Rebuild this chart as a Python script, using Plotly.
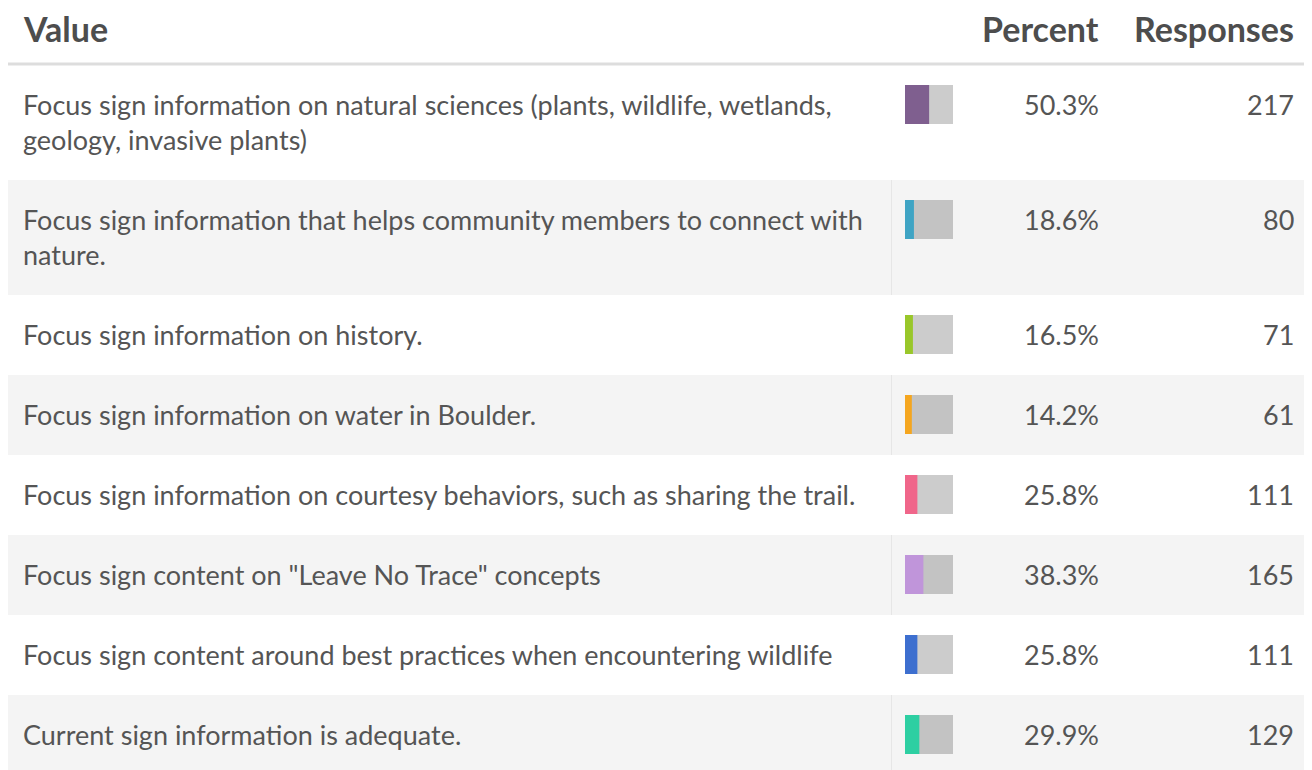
import plotly.graph_objects as go

# ---- data ----
categories = [
    "Focus sign information on natural sciences (plants, wildlife, wetlands,<br>geology, invasive plants)",
    "Focus sign information that helps community members to connect with<br>nature.",
    "Focus sign information on history.",
    "Focus sign information on water in Boulder.",
    "Focus sign information on courtesy behaviors, such as sharing the trail.",
    "Focus sign content on \"Leave No Trace\" concepts",
    "Focus sign content around best practices when encountering wildlife",
    "Current sign information is adequate.",
]
percents = [50.3, 18.6, 16.5, 14.2, 25.8, 38.3, 25.8, 29.9]
responses = [217, 80, 71, 61, 111, 165, 111, 129]
bar_colors = ["#7f5f8f", "#3fa4c4", "#99c72a", "#f5a61f", "#f0668a", "#c095da", "#3d6fcf", "#2dcfa2"]
headers = ["Value", "Percent", "Responses"]

# ---- layout geometry (reference pixel space; page body has an 8px margin) ----
W, H = 1312, 770
OFF = 8
FONT = "Lato"
TXT = "#555555"
HDR = "#4d4d4d"
LEFT = 8
HEADER_LINE = 64
ROW_ONE = 80
LINE_H = 35
BAR_TOP = 20
BAR_H = 39
BODY_SIZE = 27
NUM_SIZE = 27
HEAD_SIZE = 34

fig = go.Figure()

shapes = []
annotations = []

# header
for txt, x, anchor in [(headers[0], 21, "left"), (headers[1], 1101, "right"), (headers[2], 1296, "right")]:
    annotations.append(dict(x=x, y=28, xref="x", yref="y", text="<b>%s</b>" % txt,
                            showarrow=False, xanchor=anchor, yanchor="middle",
                            font=dict(family=FONT, size=HEAD_SIZE, color=HDR)))
shapes.append(dict(type="line", xref="x", yref="y", x0=LEFT, x1=W, y0=HEADER_LINE, y1=HEADER_LINE,
                   line=dict(color="#dddddd", width=3), layer="below"))

top = HEADER_LINE + 1
bar_centers = []
for i, cat in enumerate(categories):
    lines = cat.split("<br>")
    h = ROW_ONE + (len(lines) - 1) * LINE_H
    bottom = top + h
    if i % 2 == 1:
        shapes.append(dict(type="rect", xref="x", yref="y", x0=LEFT, x1=W, y0=top, y1=bottom,
                           fillcolor="#f4f4f4", line=dict(width=0), layer="below"))
        shapes.append(dict(type="line", xref="x", yref="y", x0=891.5, x1=891.5, y0=top, y1=bottom,
                           line=dict(color="#e6e6e6", width=1), layer="below"))
    yc = top + BAR_TOP + BAR_H / 2
    bar_centers.append(yc)
    for j, ln in enumerate(lines):
        annotations.append(dict(x=21, y=yc + j * LINE_H, xref="x", yref="y", text=ln,
                                showarrow=False, xanchor="left", yanchor="middle",
                                font=dict(family=FONT, size=BODY_SIZE, color=TXT)))
    annotations.append(dict(x=1101, y=yc, xref="x", yref="y", text="%.1f%%" % percents[i],
                            showarrow=False, xanchor="right", yanchor="middle",
                            font=dict(family=FONT, size=NUM_SIZE, color=TXT)))
    annotations.append(dict(x=1296, y=yc, xref="x", yref="y", text=str(responses[i]),
                            showarrow=False, xanchor="right", yanchor="middle",
                            font=dict(family=FONT, size=NUM_SIZE, color=TXT)))
    top = bottom

# mini bars: gray track + coloured share
fig.add_trace(go.Bar(x=[100] * len(percents), y=bar_centers, orientation="h",
                     width=BAR_H, marker=dict(color="rgba(0,0,0,0.2)", line=dict(width=0)),
                     xaxis="x2", yaxis="y", hoverinfo="skip", showlegend=False))
fig.add_trace(go.Bar(x=percents, y=bar_centers, orientation="h",
                     width=BAR_H, marker=dict(color=bar_colors, line=dict(width=0)),
                     xaxis="x2", yaxis="y", showlegend=False,
                     hovertemplate="%{x:.1f}%<extra></extra>"))

FW, FH = W - OFF, H - OFF
fig.update_layout(
    width=FW, height=FH,
    margin=dict(l=0, r=0, t=0, b=0),
    paper_bgcolor="white", plot_bgcolor="rgba(0,0,0,0)",
    barmode="overlay",
    xaxis=dict(range=[OFF, W], domain=[0, 1], visible=False, fixedrange=True),
    xaxis2=dict(range=[0, 100], domain=[(905 - OFF) / FW, (953 - OFF) / FW], visible=False,
                anchor="y", fixedrange=True),
    yaxis=dict(range=[H, OFF], domain=[0, 1], visible=False, fixedrange=True),
    shapes=shapes,
    annotations=annotations,
    font=dict(family=FONT, color=TXT),
)

fig.write_html("out.html")
